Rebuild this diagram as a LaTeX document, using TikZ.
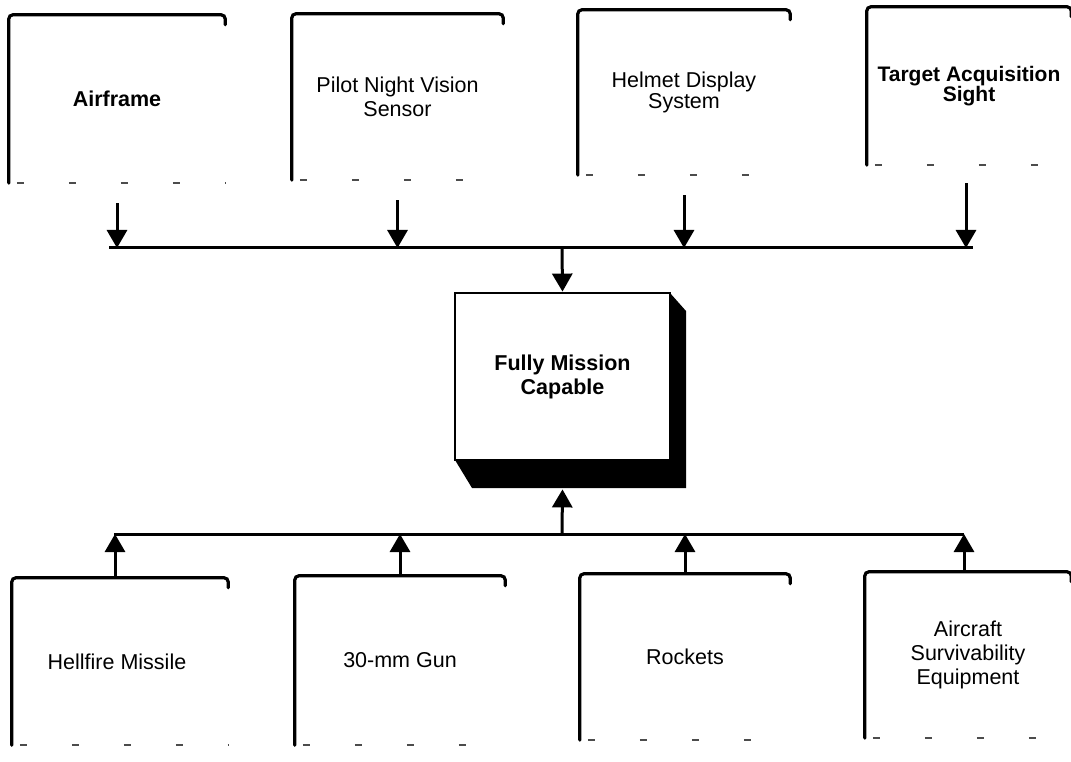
\documentclass[tikz,border=0pt]{standalone}
\usepackage{fontspec}
\setmainfont{Liberation Sans}
\usetikzlibrary{arrows.meta}
\begin{document}
\begin{tikzpicture}[x=1pt,y=-1pt,
  bx/.style={inner sep=0pt, align=center, font=\fontsize{21.5}{24}\selectfont},
  edge/.style={line width=3.2pt, rounded corners=4pt, line cap=round},
  frag/.style={line width=1.6pt, dash pattern=on 7pt off 45pt, black!70},
  conn/.style={line width=3pt},
  arr/.style={line width=3pt, -{Triangle[width=20pt,length=18pt]}}]
\useasboundingbox (0,0) rectangle (1071,762);
% top boxes
\node[bx, minimum width=216pt, minimum height=168pt, font=\fontsize{21.5}{24}\selectfont\bfseries] (air) at (117,99) {Airframe};
\node[bx, minimum width=211pt, minimum height=166pt, font=\fontsize{21.5}{24}\selectfont] (pnv) at (397.5,97) {Pilot Night Vision\\Sensor};
\node[bx, minimum width=212pt, minimum height=165pt, font=\fontsize{21.5}{19}\selectfont] (hds) at (684,92.5) {Helmet Display\\System};
\node[bx, minimum width=204pt, minimum height=158pt, font=\fontsize{21}{20}\selectfont\bfseries] (tas) at (969,86) {Target Acquisition\\Sight};
% bottom boxes
\node[bx, minimum width=216pt, minimum height=167pt] (hell) at (120,661.5) {\hspace*{-6pt}Hellfire Missile};
\node[bx, minimum width=210pt, minimum height=169pt] (gun) at (400,660.5) {30-mm Gun};
\node[bx, minimum width=210pt, minimum height=166pt] (rock) at (685,657) {Rockets};
\node[bx, minimum width=206pt, minimum height=166pt, font=\fontsize{21.5}{24}\selectfont] (ase) at (968,655) {Aircraft\\Survivability\\Equipment};
% partial box outlines (as in the scanned original)
\foreach \n in {air,pnv,hds,tas,hell,gun,rock,ase}{
  \draw[edge] (\n.south west) -- (\n.north west) -- (\n.north east) -- ([yshift=-10pt]\n.north east);
  \draw[frag] ([xshift=8pt]\n.south west) -- (\n.south east);
}
% central box with 3D shadow
\coordinate (fsw) at (455,460);
\coordinate (fne) at (670,293);
\fill[black] (fsw) -- ++(17,28) -- (686,488) -- (686,311) -- (fne) |- cycle;
\node[bx, draw, line width=2.8pt, fill=white, minimum width=215pt, minimum height=167pt, font=\fontsize{21.5}{24}\selectfont\bfseries] (fmc) at (562.5,376.5) {Fully Mission\\Capable};
\coordinate (shb) at ([yshift=-28pt]fmc.south);
% top bus
\coordinate (busT) at (562,248);
\draw[arr] ([yshift=-20pt]air.south) -- (air.south |- busT);
\draw[arr] ([yshift=-20pt]pnv.south) -- (pnv.south |- busT);
\draw[arr] ([yshift=-20pt]hds.south) -- (hds.south |- busT);
\draw[arr] ([yshift=-18pt,xshift=-3pt]tas.south) -- ([xshift=-3pt]tas.south |- busT);
\draw[conn] ([xshift=-8pt]air.south |- busT) -- ([xshift=4pt]tas.south |- busT);
\draw[arr] (busT) -- (fmc.north);
% bottom bus
\coordinate (busB) at (562,534);
\draw[arr] ([xshift=-5pt]hell.north) -- ([xshift=-5pt]hell.north |- busB);
\draw[arr] (gun.north) -- (gun.north |- busB);
\draw[arr] (rock.north) -- (rock.north |- busB);
\draw[arr] ([xshift=-4pt]ase.north) -- ([xshift=-4pt]ase.north |- busB);
\draw[conn, rounded corners=3pt] ([xshift=-6pt]hell.north |- busB) -- ([xshift=-4pt]ase.north |- busB);
\draw[arr] (busB) -- (shb);
\end{tikzpicture}
\end{document}
